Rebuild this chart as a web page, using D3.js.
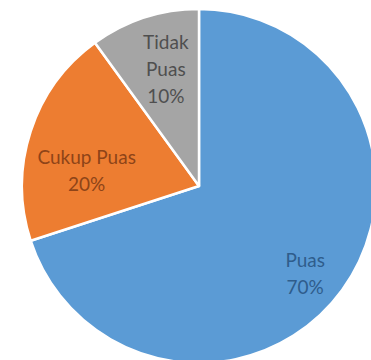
<!DOCTYPE html>
<html>
<head>
<meta charset="UTF-8">
<title>Kepuasan</title>
<script src="https://d3js.org/d3.v7.min.js"></script>
<style>
  body { margin: 0; background: #fff; }
  svg { display: block; }
</style>
</head>
<body>
<svg class="chart"></svg>
<script>
const categories = ["Puas", "Cukup Puas", "Tidak Puas"];
const values = [70, 20, 10];
const labelLines = [["Puas", "70%"], ["Cukup Puas", "20%"], ["Tidak", "Puas", "10%"]];

const width = 371;
const height = 360;
const cx = 199, cy = 186;
const radius = 177;

const fills = d3.scaleOrdinal().domain(categories).range(["#5b9bd5", "#ed7d31", "#a5a5a5"]);
const textColors = d3.scaleOrdinal().domain(categories).range(["#2f5d8c", "#8e4418", "#4f4f4f"]);

const svg = d3.select(".chart")
    .attr("width", width)
    .attr("height", height);

const g = svg.append("g")
    .attr("transform", `translate(${cx}, ${cy})`);

const data = categories.map((c, i) => ({cat: c, value: values[i], lines: labelLines[i]}));

const pie = d3.pie().sort(null).value(d => d.value);
const arc = d3.arc().innerRadius(0).outerRadius(radius);

const arcs = pie(data);

g.selectAll("path")
    .data(arcs).enter().append("path")
    .attr("d", arc)
    .style("fill", d => fills(d.data.cat))
    .style("stroke", "#fff")
    .style("stroke-width", 2.5)
    .style("stroke-linejoin", "round");

// label positions: like excel "best fit", roughly inside each slice
const labelRadius = {"Puas": 0.78, "Cukup Puas": 0.64, "Tidak Puas": 0.68};
const labelAngleShift = {"Puas": 0.065, "Cukup Puas": -0.187, "Tidak Puas": 0.035};
const lineHeight = 27;

const labels = g.selectAll(".lbl")
    .data(arcs).enter().append("text")
    .attr("class", "lbl")
    .attr("text-anchor", "middle")
    .style("font-family", "Lato, sans-serif")
    .style("font-size", "19px")
    .style("fill", d => textColors(d.data.cat))
    .attr("transform", d => {
        const a = (d.startAngle + d.endAngle) / 2 + labelAngleShift[d.data.cat];
        const r = radius * labelRadius[d.data.cat];
        const n = d.data.lines.length;
        const x = Math.sin(a) * r;
        const y = -Math.cos(a) * r - (n - 1) * lineHeight / 2 + 6;
        return `translate(${x}, ${y})`;
    });

labels.each(function(d) {
    d3.select(this).selectAll("tspan")
        .data(d.data.lines).enter().append("tspan")
        .attr("x", 0)
        .attr("dy", (t, i) => i === 0 ? 0 : lineHeight)
        .text(t => t);
});
</script>
</body>
</html>
